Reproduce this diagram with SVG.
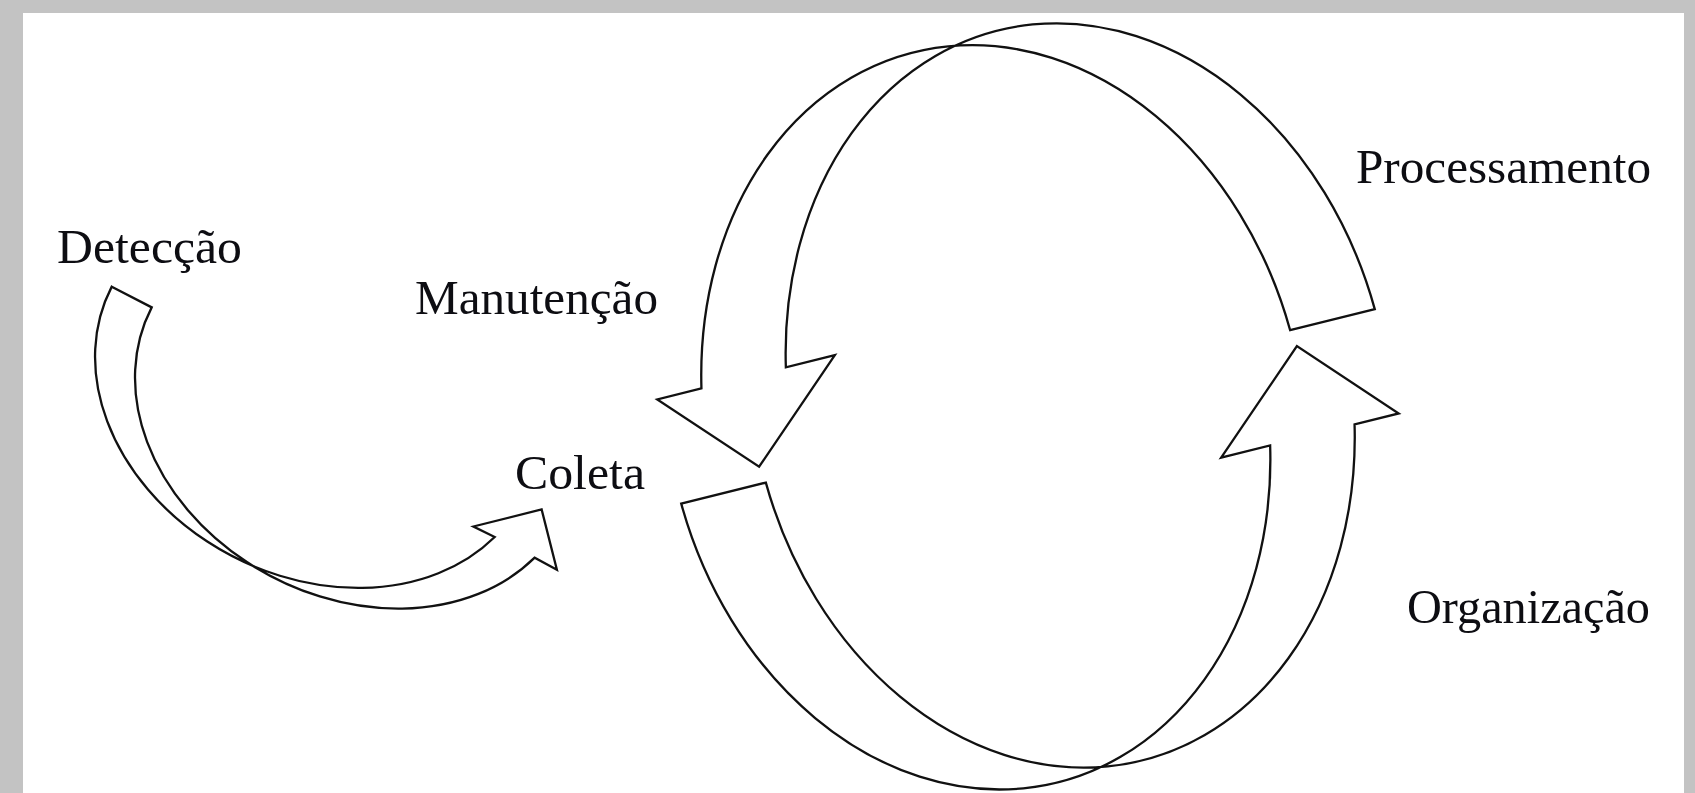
<svg xmlns="http://www.w3.org/2000/svg" width="1695" height="793" viewBox="0 0 1695 793">
<style>
.lbl{font-family:"Liberation Serif","Times New Roman",serif;font-size:49px;fill:#0d0d12}
.arr{fill:#fff;stroke:#111;stroke-width:2.3;stroke-linejoin:miter}
</style>
<defs>
<path id="bigArrow" d="M 272.8 -10.5 L 360 -10.5 A 298 373 0 0 0 -225.5 -96.5 L -175 -96.5 L -275.5 -6.5 L -358 -96.5 L -312.5 -96.5 A 298 373 0 0 1 272.8 -10.5 Z"/>
</defs>
<rect width="1695" height="793" fill="#c3c3c3"/>
<rect x="23" y="13" width="1661" height="780" fill="#fff"/>
<g id="connectors">
<path id="arrow-deteccao-coleta" class="arr" transform="translate(300 400) rotate(27.4)" d="M -219.3 -14 L -174.3 -14 A 231.3 184 0 0 0 280.9 32 L 306.2 32.5 L 264.9 -14 L 212.2 32.5 L 235.9 32 A 231.3 184 0 0 1 -219.3 -14 Z"/>
<use id="arrow-manutencao" href="#bigArrow" class="arr" transform="translate(1028 406.4) rotate(-14)"/>
<use id="arrow-organizacao" href="#bigArrow" class="arr" transform="translate(1028 406.4) rotate(166)"/>
</g>
<g id="node-deteccao"><text class="lbl" x="57" y="263" textLength="185" lengthAdjust="spacingAndGlyphs">Detecção</text></g>
<g id="node-manutencao"><text class="lbl" x="415" y="314" textLength="243" lengthAdjust="spacingAndGlyphs">Manutenção</text></g>
<g id="node-coleta"><text class="lbl" x="515" y="489" textLength="130" lengthAdjust="spacingAndGlyphs">Coleta</text></g>
<g id="node-processamento"><text class="lbl" x="1356" y="183" textLength="295" lengthAdjust="spacingAndGlyphs">Processamento</text></g>
<g id="node-organizacao"><text class="lbl" x="1407" y="623" textLength="243" lengthAdjust="spacingAndGlyphs">Organização</text></g>
</svg>
